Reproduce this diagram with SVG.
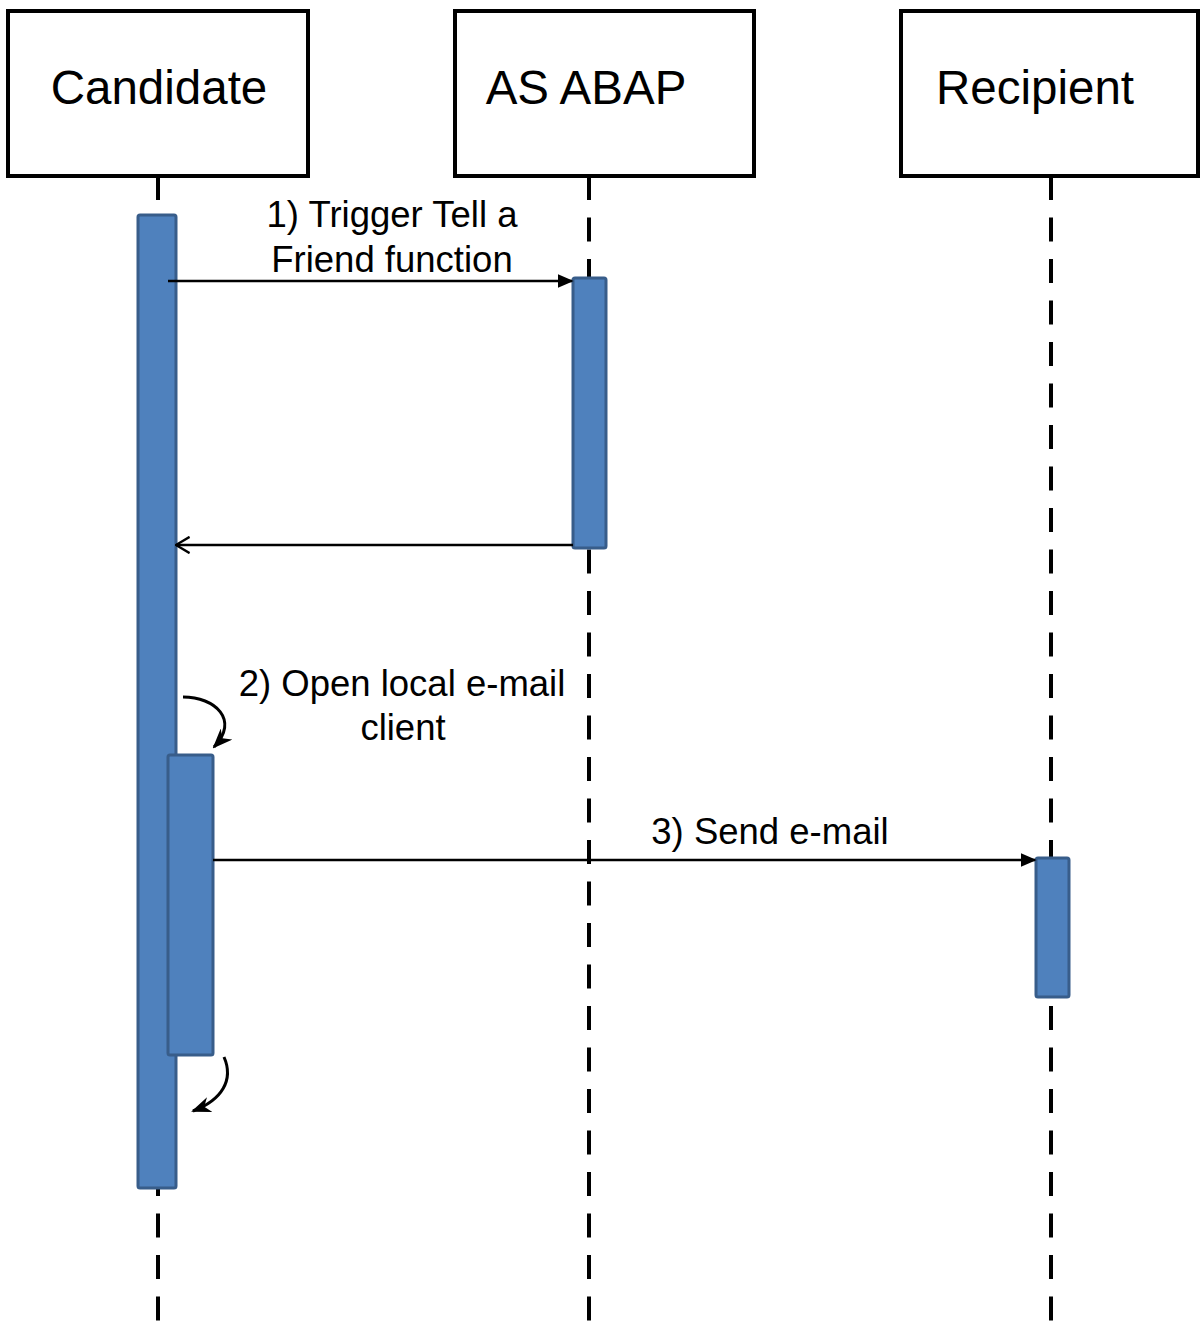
<svg xmlns="http://www.w3.org/2000/svg" width="1200" height="1325" viewBox="0 0 1200 1325">
<defs>
<style>
.box{fill:#fff;stroke:#000;stroke-width:4}
.title{font-family:"Liberation Sans",Arial,sans-serif;font-size:47.5px;fill:#000;text-anchor:middle}
.lbl{font-family:"Liberation Sans",Arial,sans-serif;font-size:36.5px;fill:#000;text-anchor:middle}
.life{stroke:#000;stroke-width:4;stroke-dasharray:24 17.5;fill:none}
.act{fill:#4F81BD;stroke:#385D8A;stroke-width:3}
.msg{stroke:#000;stroke-width:2.5;fill:none}
.crv{stroke:#000;stroke-width:3;fill:none}
</style>
<marker id="filled" viewBox="0 0 10 10" refX="9" refY="5" markerWidth="16" markerHeight="14" markerUnits="userSpaceOnUse" orient="auto" preserveAspectRatio="none">
<path d="M0,0 L10,5 L0,10 z" fill="#000"/>
</marker>
<marker id="open" viewBox="0 0 10 10" refX="9.5" refY="5" markerWidth="16" markerHeight="18" markerUnits="userSpaceOnUse" orient="auto" preserveAspectRatio="none">
<path d="M1,0.5 L9.5,5 L1,9.5" fill="none" stroke="#000" stroke-width="1.4"/>
</marker>
<marker id="curve" viewBox="0 0 10 10" refX="9" refY="5" markerWidth="20" markerHeight="16" markerUnits="userSpaceOnUse" orient="auto" preserveAspectRatio="none">
<path d="M0,0 L10,5 L0,10 L3,5 z" fill="#000"/>
</marker>
</defs>
<g id="lifelines">
<line class="life" x1="158" y1="176" x2="158" y2="1325"/>
<line class="life" x1="589" y1="176" x2="589" y2="1325"/>
<line class="life" x1="1051" y1="176" x2="1051" y2="1325"/>
</g>
<g id="candidate">
<rect class="box" x="8" y="11" width="300" height="165"/>
<text class="title" x="159" y="104">Candidate</text>
</g>
<g id="asabap">
<rect class="box" x="455" y="11" width="299" height="165"/>
<text class="title" x="586" y="104">AS ABAP</text>
</g>
<g id="recipient">
<rect class="box" x="901" y="11" width="297" height="165"/>
<text class="title" x="1035" y="104">Recipient</text>
</g>
<g id="activations">
<rect id="act-candidate" class="act" x="138" y="215" width="38" height="973" rx="2"/>
<rect id="act-asabap" class="act" x="573" y="278" width="33" height="270" rx="2"/>
<rect id="act-recipient" class="act" x="1036" y="858" width="33" height="139" rx="2"/>
<rect id="act-client" class="act" x="168" y="755" width="45" height="300" rx="2"/>
</g>
<g id="connectors">
<line class="msg" x1="168" y1="281" x2="572" y2="281" marker-end="url(#filled)"/>
<line class="msg" x1="573" y1="545" x2="176" y2="545" marker-end="url(#open)"/>
<line class="msg" x1="213" y1="860" x2="1035" y2="860" marker-end="url(#filled)"/>
<path class="crv" d="M183,697 C215,697 240,720 214,747" marker-end="url(#curve)"/>
<path class="crv" d="M224,1057 C234,1080 222,1100 193,1111" marker-end="url(#curve)"/>
</g>
<g id="labels">
<text class="lbl" x="392" y="227">1) Trigger Tell a</text>
<text class="lbl" x="392" y="272">Friend function</text>
<text class="lbl" x="402" y="696">2) Open local e-mail</text>
<text class="lbl" x="403" y="740">client</text>
<text class="lbl" x="770" y="844">3) Send e-mail</text>
</g>
</svg>
